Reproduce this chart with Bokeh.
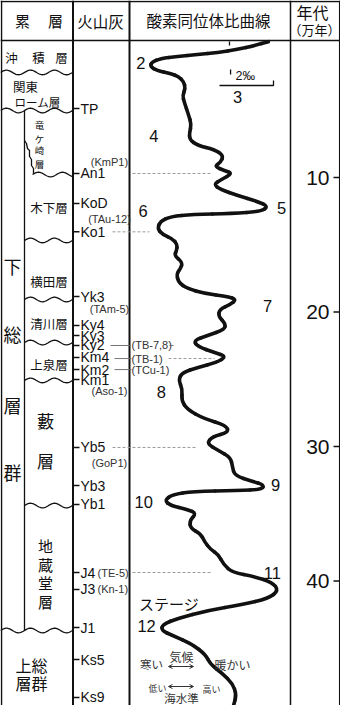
import numpy as np
from bokeh.plotting import figure
from bokeh.models import Range1d, Arrow, OpenHead
from bokeh.core.properties import value
from bokeh.embed import file_html
from bokeh.resources import INLINE

# ---------------- data ----------------
# Oxygen-isotope curve: age (x 10^4 yr) and delta-18O (permil, relative; larger = colder)
curve_age = [-0.10, 0.19, 0.48, 0.71, 0.86, 1.00, 1.15, 1.45, 1.75, 2.04,
             2.27, 2.49, 2.86, 3.38, 3.90, 4.42, 5.32, 6.06, 6.65, 7.17,
             7.62, 7.92, 8.36, 8.88, 9.18, 9.48, 9.70, 10.15, 10.52, 10.89,
             11.34, 11.78, 12.16, 12.53, 12.68, 12.75, 12.90, 13.27, 13.79, 14.24,
             14.54, 14.98, 15.43, 15.80, 16.32, 16.77, 17.14, 17.81, 18.25, 18.62,
             18.85, 19.07, 19.44, 19.81, 20.33, 20.86, 21.30, 21.75, 22.12, 22.57,
             23.01, 23.31, 23.75, 24.13, 24.50, 25.02, 25.76, 26.58, 27.25, 27.92,
             28.44, 28.96, 29.26, 29.78, 30.30, 30.82, 31.49, 32.16, 32.60, 32.83,
             33.20, 33.27, 33.35, 33.57, 34.01, 34.39, 34.68, 34.98, 35.50, 36.10,
             36.47, 37.06, 37.66, 38.03, 38.77, 39.37, 39.67, 40.11, 40.71, 41.30,
             41.75, 42.19, 42.79, 43.23, 43.68, 44.05, 44.72, 45.46, 46.21, 46.88,
             47.62, 48.44, 49.26]
curve_d18o = [3.19, 3.70, 4.33, 5.07, 5.81, 6.56, 7.19, 7.52, 7.56, 7.33,
              6.81, 6.52, 6.33, 6.26, 6.37, 6.30, 6.15, 6.04, 6.11, 6.11,
              5.81, 5.19, 4.85, 4.96, 5.19, 4.81, 4.52, 4.93, 5.22, 4.96,
              4.33, 3.59, 3.19, 3.48, 4.52, 6.00, 6.81, 7.19, 7.30, 7.11,
              6.74, 6.56, 6.59, 6.67, 6.37, 6.44, 6.59, 6.52, 6.19, 5.56,
              4.70, 4.37, 4.59, 5.00, 5.04, 4.78, 4.81, 5.44, 5.96, 5.81,
              5.19, 4.74, 5.11, 5.81, 6.37, 6.52, 6.37, 6.41, 6.19, 5.59,
              4.74, 4.67, 5.26, 5.48, 5.04, 4.59, 4.52, 4.44, 3.78, 3.37,
              3.41, 4.33, 6.00, 6.74, 7.04, 6.81, 6.19, 5.85, 6.11, 6.07,
              5.70, 5.56, 5.33, 5.04, 4.85, 4.52, 3.70, 3.04, 2.81, 3.19,
              4.15, 5.44, 6.56, 7.11, 7.15, 6.74, 6.00, 5.52, 5.33, 4.89,
              4.52, 4.37, 4.48]

stage_labels = ["2", "3", "4", "5", "6", "7", "8", "9", "10", "11", "12"]
stage_age = [1.52, 3.98, 6.95, 12.30, 12.49, 19.59, 25.98, 32.86, 34.09, 39.37, 43.31]
stage_d18o = [7.91, 4.33, 7.43, 2.70, 7.83, 3.22, 7.15, 2.92, 7.81, 3.04, 7.70]

tephra_names = ["TP", "An1", "KoD", "Ko1", "Yk3", "Ky4", "Ky3", "Ky2", "Km4", "Km2",
                "Km1", "Yb5", "Yb3", "Yb1", "J4", "J3", "J1", "Ks5", "Ks9"]
tephra_age = [4.87, 9.70, 11.93, 14.04, 18.85, 21.00, 21.75, 22.49, 23.38, 24.28,
              25.02, 30.07, 32.90, 34.31, 39.37, 40.63, 43.46, 45.84, 48.66]

# correlated marker tephras (label, age)
corr_names = ["(KmP1)", "(TAu-12)", "(TAm-5)", "(Aso-1)", "(GoP1)"]
corr_age = [8.88, 13.12, 19.74, 25.84, 31.26]
corr_names_r = ["(TB-7,8)", "(TB-1)", "(TCu-1)"]
corr_age_r = [22.49, 23.46, 24.28]
corr_names_j = ["(TE-5)", "(Kn-1)"]
corr_age_j = [39.37, 40.63]

age_ticks = [10, 20, 30, 40]
age_tick_labels = ["10", "20", "30", "40"]

# formation boundaries (age units)
boundary_age = [2.19, 5.02, 9.78, 14.68, 19.07, 22.27, 25.09, 34.39, 43.68]

# ---------------- layout constants ----------------
JP = "Noto Sans CJK JP"
LAT = "Liberation Sans"
PX_PER_AGE = 13.45
AGE0_Y = 50.5
PX_PER_PERMIL = 27.0
ISO_ZERO_X = 362.0
X0, X1, Y0, Y1 = 8, 348, 8, 713

p = figure(width=X1 - X0, height=Y1 - Y0, x_range=Range1d(X0, X1), y_range=Range1d(Y1, Y0),
           output_backend="svg", toolbar_location=None, x_axis_location=None,
           y_axis_location=None, min_border=0, background_fill_color="white",
           border_fill_color="white", outline_line_color=None)
p.grid.visible = False
p.extra_x_ranges = {"iso": Range1d(start=(ISO_ZERO_X - X0) / PX_PER_PERMIL,
                                   end=(ISO_ZERO_X - X1) / PX_PER_PERMIL)}
p.extra_y_ranges = {"age": Range1d(start=(Y1 - AGE0_Y) / PX_PER_AGE,
                                   end=(Y0 - AGE0_Y) / PX_PER_AGE)}


def txt(x, y, s, size, font=JP, align="center", baseline="middle", color="#111111",
        xr="default", yr="default"):
    p.text(x=[x], y=[y], text=[s], text_font=value(font), text_font_size=value(f"{size}px"),
           text_align=align, text_baseline=baseline, text_color=color,
           x_range_name=xr, y_range_name=yr)


# ---------------- table frame ----------------
for xv, w in [(9, 1.5), (80.5, 2), (137, 2), (298, 1.5), (347.2, 1.5)]:
    p.line(x=[xv, xv], y=[Y0, Y1], line_color="#111111", line_width=w)
p.line(x=[X0, X1], y=[9, 9], line_color="#111111", line_width=1.5)
p.line(x=[X0, X1], y=[48, 48], line_color="#111111", line_width=1.5)

# headers
txt(30, 28, "累", 15)
txt(63, 28, "層", 15)
txt(108, 28, "火山灰", 15.5)
txt(216, 27, "酸素同位体比曲線", 15.5)
txt(320, 19, "年代", 16)
txt(322, 37, "（万年）", 13)

# ---------------- column 1: formations ----------------
p.line(x=[32, 32], y=[boundary_age[1], boundary_age[-1]], y_range_name="age",
       line_color="#111111", line_width=1.3)
wave_x0 = [8, 8, 40, 32, 32, 32, 32, 32, 8]
for a, xs0 in zip(boundary_age, wave_x0):
    xs = np.linspace(xs0, 80, 80)
    ys = a - (2.3 / PX_PER_AGE) * np.sin(2 * np.pi * (xs - xs0) / 24.0)
    p.line(x=xs, y=ys, y_range_name="age", line_color="#111111", line_width=1.3)
# Ryugasaki lens boundary
p.line(x=[32, 34, 35, 37, 37, 39, 39, 41, 41], y=[148, 151, 156, 158, 164, 167, 173, 176, 181],
       line_color="#111111", line_width=1.3)

txt(19, 1.08, "沖", 12.5, yr="age")
txt(46, 1.08, "積", 12.5, yr="age")
txt(69, 1.08, "層", 12.5, yr="age")
txt(33, 3.23, "関東", 12.5, yr="age")
txt(45, 4.35, "ローム層", 11.5, yr="age")
for ch, a in zip("竜ケ崎層", [6.13, 7.17, 7.99, 9.03]):
    txt(47, a, ch, 9.5, yr="age")
txt(56.5, 12.23, "木下層", 12.5, yr="age")
txt(56.5, 17.73, "横田層", 12.5, yr="age")
txt(56.5, 20.86, "清川層", 12.5, yr="age")
txt(56.5, 23.90, "上泉層", 12.5, yr="age")
txt(53, 28.07, "藪", 17, yr="age")
txt(53, 31.05, "層", 17, yr="age")
for ch, a in zip("地蔵堂層", [37.36, 38.77, 40.11, 41.52]):
    txt(53, a, ch, 15, yr="age")
txt(39, 46.21, "上総", 16, yr="age")
txt(39, 47.55, "層群", 16, yr="age")
for ch, a in zip("下総層群", [16.58, 21.64, 26.91, 31.86]):
    txt(20, a, ch, 18, yr="age")

# ---------------- column 2: tephras ----------------
p.segment(x0=[80.5] * len(tephra_age), x1=[87] * len(tephra_age), y0=tephra_age,
          y1=tephra_age, y_range_name="age", line_color="#111111", line_width=1.5)
p.text(x=[88] * len(tephra_names), y=tephra_age, text=tephra_names, text_font=value(LAT),
       text_font_size=value("14px"), text_align="left", text_baseline="middle",
       text_color="#111111", y_range_name="age")
p.text(x=[117] * len(corr_names), y=corr_age, text=corr_names, text_font=value(LAT),
       text_font_size=value("11px"), text_align="center", text_baseline="middle",
       text_color="#333333", y_range_name="age")
p.text(x=[139] * len(corr_names_r), y=corr_age_r, text=corr_names_r, text_font=value(LAT),
       text_font_size=value("11px"), text_align="left", text_baseline="middle",
       text_color="#333333", y_range_name="age")
p.text(x=[105] * len(corr_names_j), y=corr_age_j, text=corr_names_j, text_font=value(LAT),
       text_font_size=value("11px"), text_align="left", text_baseline="middle",
       text_color="#333333", y_range_name="age")
p.segment(x0=[118, 122, 122], x1=[138, 139, 139], y0=corr_age_r, y1=corr_age_r,
          y_range_name="age", line_color="#666666", line_width=0.9)
p.segment(x0=[177], x1=[181], y0=[corr_age_r[0]], y1=[corr_age_r[0]],
          y_range_name="age", line_color="#666666", line_width=0.9)
dash_age = [tephra_age[1], tephra_age[3], corr_age_r[1], tephra_age[11], tephra_age[14]]
dash_x0 = [140, 120, 176, 120, 140]
dash_x1 = [220, 157, 222, 205, 218]
p.segment(x0=dash_x0, x1=dash_x1, y0=dash_age, y1=dash_age, y_range_name="age",
          line_color="#9a9a9a", line_width=1, line_dash="3 2")

# ---------------- column 3: isotope curve (smooth rendering through the read points) ----------------
n = min(len(curve_age), len(curve_d18o))
cx = np.array(curve_d18o[:n])
cy = np.array(curve_age[:n])
mx = (cx[:-1] + cx[1:]) / 2
my = (cy[:-1] + cy[1:]) / 2
curve_style = dict(x_range_name="iso", y_range_name="age", line_color="#111111",
                   line_width=3.6, line_cap="round")
p.quadratic(x0=mx[:-1], y0=my[:-1], x1=mx[1:], y1=my[1:], cx=cx[1:-1], cy=cy[1:-1],
            **curve_style)
p.segment(x0=[cx[0], mx[-1]], y0=[cy[0], my[-1]], x1=[mx[0], cx[-1]], y1=[my[0], cy[-1]],
          **curve_style)
p.text(x=stage_d18o, y=stage_age, text=stage_labels, text_font=value(LAT),
       text_font_size=value("16.5px"), text_align="center", text_baseline="middle",
       text_color="#111111", x_range_name="iso", y_range_name="age")

# scale bar (2 permil)
p.line(x=[5.0, 3.0, 3.0], y=[3.16, 3.16, 2.79], x_range_name="iso", y_range_name="age",
       line_color="#111111", line_width=1.3)
p.line(x=[4.59, 4.59], y=[1.97, 2.34], x_range_name="iso", y_range_name="age",
       line_color="#111111", line_width=1.3)
p.line(x=[4.63, 4.63], y=[-0.11, 0.19], x_range_name="iso", y_range_name="age",
       line_color="#111111", line_width=1.3)
txt(4.41, 2.42, "2‰", 12.5, font=LAT, align="left", xr="iso", yr="age")

txt(176.5, 611, "ステージ", 15)

# legend
txt(159, 671, "寒い", 11.5, color="#333333")
txt(189, 664, "気候", 12, color="#333333")
txt(240, 672, "暖かい", 12, color="#333333")
txt(165, 696, "低い", 9, color="#333333")
txt(219, 697, "高い", 9, color="#333333")
txt(189, 705, "海水準", 11.5, color="#333333")
for yy in (674, 694):
    p.add_layout(Arrow(x_start=176, x_end=201, y_start=yy, y_end=yy,
                       start=OpenHead(size=4, line_color="#333333", line_width=1),
                       end=OpenHead(size=4, line_color="#333333", line_width=1),
                       line_color="#333333", line_width=1))

# ---------------- column 4: age axis ----------------
p.segment(x0=[341] * len(age_ticks), x1=[348] * len(age_ticks), y0=age_ticks, y1=age_ticks,
          y_range_name="age", line_color="#111111", line_width=1.5)
p.text(x=[337] * len(age_ticks), y=age_ticks, text=age_tick_labels, text_font=value(LAT),
       text_font_size=value("21px"), text_align="right", text_baseline="middle",
       text_color="#111111", y_range_name="age")

html = file_html(p, INLINE)
html = html.replace("<body>", '<body style="background:#c8dbe9;">', 1)
open("out.html", "w").write(html)
